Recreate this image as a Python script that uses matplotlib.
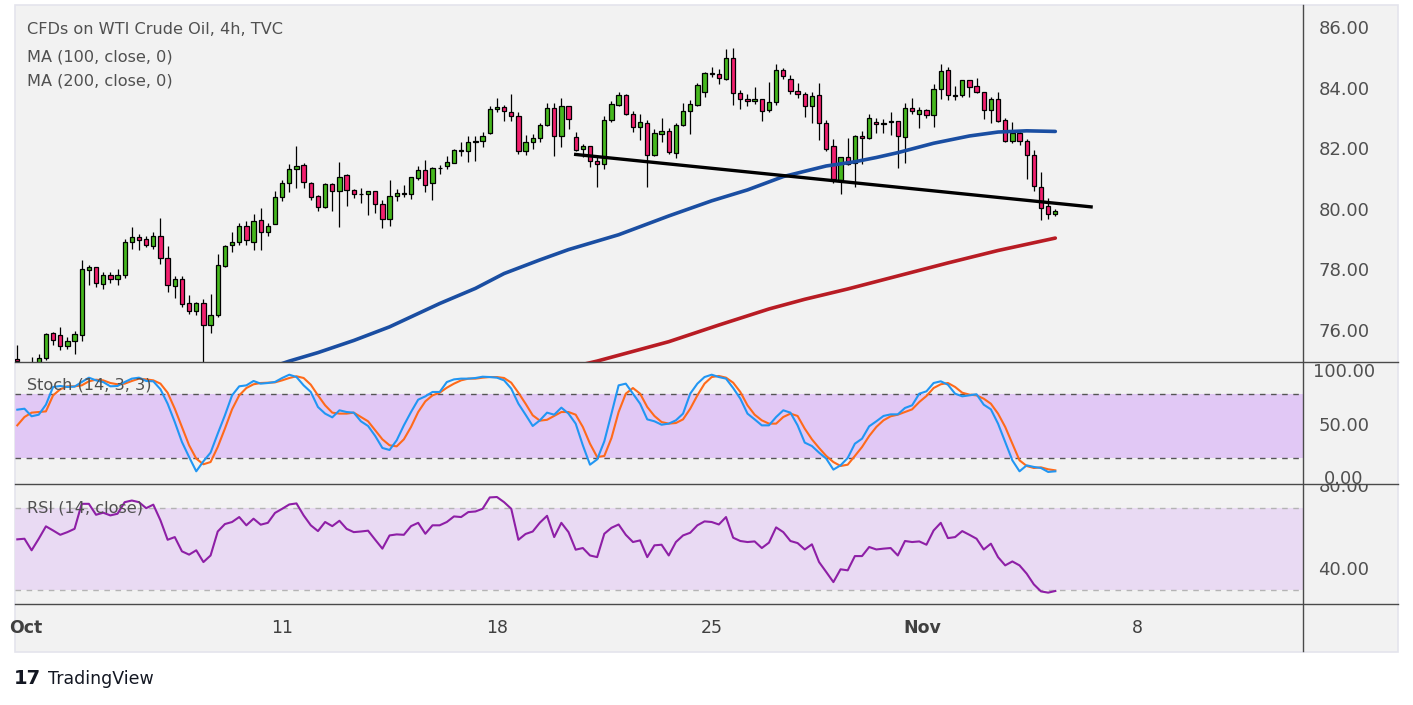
import matplotlib
matplotlib.use("Agg")
import matplotlib.pyplot as plt
from matplotlib.patches import Rectangle
from matplotlib.lines import Line2D
from matplotlib.transforms import Bbox, TransformedBbox

W, H = 1413, 705

# ---- 4h candles (bar index 0 = last bar of Sep 30) ----
opens = [
    75.10, 74.80, 74.80, 74.95, 75.13, 75.96, 75.89, 75.53, 75.69, 75.89,
    78.04, 78.14, 77.57, 77.87, 77.74, 77.87, 78.96, 79.13, 79.06, 78.83,
    79.16, 78.43, 77.51, 77.74, 76.95, 76.68, 76.95, 76.22, 76.55, 78.17,
    78.86, 78.96, 79.49, 78.98, 79.69, 79.29, 79.56, 80.45, 80.91, 81.37,
    81.50, 80.91, 80.48, 80.12, 80.87, 80.64, 81.17, 80.68, 80.57, 80.57,
    80.64, 80.21, 79.72, 80.48, 80.57, 80.55, 81.07, 81.34, 80.91, 81.40,
    81.47, 81.57, 81.99, 81.96, 82.28, 82.29, 82.56, 83.35, 83.42, 83.25,
    83.12, 81.96, 82.26, 82.39, 82.82, 83.38, 82.46, 83.45, 82.43, 82.03,
    82.13, 81.63, 81.53, 82.99, 83.48, 83.81, 83.18, 82.76, 82.89, 81.83,
    82.52, 82.62, 81.90, 82.82, 83.28, 83.48, 83.91, 84.53, 84.50, 84.34,
    85.03, 83.88, 83.68, 83.61, 83.68, 83.32, 83.58, 84.64, 84.34, 83.94,
    83.84, 83.45, 83.81, 82.89, 82.13, 81.01, 81.77, 81.57, 82.46, 82.39,
    82.92, 82.88, 82.94, 82.95, 82.43, 83.38, 83.18, 83.32, 83.15, 84.01,
    84.64, 83.80, 83.81, 84.31, 84.11, 83.91, 83.32, 83.68, 82.99, 82.29,
    82.56, 82.29, 81.83, 80.78, 80.15, 79.88,
]
highs = [
    75.57, 74.95, 75.17, 75.27, 75.96, 76.00, 76.15, 75.83, 76.02, 78.38,
    78.20, 78.16, 77.97, 77.97, 78.07, 79.06, 79.46, 79.23, 79.16, 79.29,
    79.75, 78.83, 77.84, 77.84, 77.21, 76.98, 77.08, 77.24, 78.56, 78.86,
    79.29, 79.59, 79.65, 79.88, 80.08, 79.59, 80.64, 81.01, 81.53, 82.13,
    81.57, 80.94, 80.51, 80.91, 80.91, 81.60, 81.20, 80.71, 80.74, 80.66,
    80.66, 80.35, 81.01, 80.71, 80.84, 81.12, 81.47, 81.67, 81.43, 81.50,
    81.80, 82.03, 82.26, 82.46, 82.46, 82.59, 83.45, 83.71, 83.48, 83.84,
    83.25, 82.49, 82.52, 82.89, 83.55, 83.55, 83.71, 83.47, 82.59, 82.19,
    82.15, 81.83, 83.12, 83.61, 83.91, 83.84, 83.28, 83.18, 82.99, 82.69,
    83.05, 82.72, 82.89, 83.55, 83.65, 84.21, 84.57, 84.74, 84.67, 85.33,
    85.36, 83.98, 83.84, 84.08, 83.70, 84.24, 84.83, 84.70, 84.47, 84.21,
    83.91, 83.91, 84.21, 82.99, 82.36, 81.79, 82.39, 82.49, 82.62, 83.18,
    83.05, 83.02, 83.25, 82.97, 83.55, 83.71, 83.42, 83.35, 84.17, 84.83,
    84.74, 84.11, 84.33, 84.33, 84.37, 83.93, 83.75, 83.91, 83.05, 82.92,
    82.62, 82.36, 82.00, 81.27, 80.41, 80.05,
]
lows = [
    74.90, 74.50, 74.60, 74.80, 75.06, 75.58, 75.42, 75.45, 75.28, 75.71,
    77.56, 77.48, 77.43, 77.63, 77.54, 77.77, 78.75, 78.70, 78.80, 78.73,
    78.23, 77.33, 77.11, 76.82, 76.58, 76.55, 74.95, 75.96, 76.49, 78.14,
    78.63, 78.86, 78.88, 78.70, 78.70, 79.18, 79.56, 80.31, 80.61, 80.74,
    80.74, 80.35, 79.98, 80.08, 79.98, 79.45, 80.15, 80.41, 80.25, 79.85,
    79.92, 79.42, 79.49, 80.31, 80.45, 80.38, 81.01, 80.61, 80.35, 81.20,
    81.37, 81.57, 81.80, 81.60, 81.63, 82.10, 82.52, 83.25, 82.95, 82.95,
    81.86, 81.83, 82.03, 82.26, 82.80, 81.80, 82.10, 82.69, 81.98, 81.77,
    81.44, 80.78, 81.37, 82.92, 83.46, 83.16, 82.59, 82.33, 80.78, 81.81,
    82.26, 81.86, 81.73, 82.80, 82.52, 83.46, 83.75, 84.41, 84.17, 84.32,
    83.48, 83.35, 83.45, 83.51, 82.95, 83.25, 83.48, 84.34, 83.84, 83.71,
    83.09, 82.89, 82.33, 81.96, 80.91, 80.55, 81.51, 80.78, 81.53, 82.37,
    82.56, 82.56, 82.49, 81.40, 81.57, 83.18, 82.72, 83.05, 82.76, 83.68,
    83.65, 83.65, 83.75, 83.75, 83.89, 83.02, 82.89, 82.92, 82.27, 82.23,
    82.16, 81.04, 80.64, 79.69, 79.72, 79.82,
]
closes = [
    75.03, 74.70, 74.90, 75.14, 75.92, 75.73, 75.53, 75.69, 75.92, 78.07,
    78.14, 77.61, 77.87, 77.74, 77.87, 78.96, 79.13, 79.03, 78.86, 79.16,
    78.43, 77.54, 77.74, 76.91, 76.68, 76.95, 76.22, 76.55, 78.20, 78.83,
    78.96, 79.49, 79.03, 79.65, 79.29, 79.49, 80.45, 80.91, 81.37, 81.47,
    80.94, 80.45, 80.12, 80.87, 80.64, 81.10, 80.68, 80.55, 80.55, 80.64,
    80.21, 79.72, 80.48, 80.58, 80.59, 81.10, 81.34, 80.84, 81.40, 81.41,
    81.60, 82.00, 82.01, 82.26, 82.30, 82.46, 83.35, 83.42, 83.28, 83.12,
    81.96, 82.26, 82.39, 82.82, 83.38, 82.46, 83.45, 83.02, 82.00, 82.13,
    81.63, 81.53, 82.99, 83.51, 83.81, 83.18, 82.76, 82.92, 81.83, 82.56,
    82.62, 81.93, 82.82, 83.28, 83.51, 84.14, 84.54, 84.55, 84.37, 85.03,
    83.88, 83.68, 83.61, 83.68, 83.28, 83.58, 84.64, 84.44, 83.94, 83.84,
    83.45, 83.78, 82.89, 82.03, 81.04, 81.77, 81.53, 82.46, 82.39, 83.05,
    82.85, 82.90, 82.96, 82.46, 83.38, 83.28, 83.32, 83.15, 84.01, 84.60,
    83.81, 83.82, 84.31, 84.08, 83.91, 83.32, 83.68, 82.95, 82.29, 82.56,
    82.29, 81.83, 80.81, 80.08, 79.88, 79.98,
]

# moving averages at a handful of bars
ma100_bars = [36, 38, 42, 47, 52, 59, 64, 68, 73, 77, 84, 91, 97, 102, 107, 113, 117,
              120, 123, 128, 133, 137, 141, 145]
ma100_vals = [74.88, 75.04, 75.32, 75.72, 76.17, 76.94, 77.44, 77.93, 78.38, 78.72,
              79.21, 79.83, 80.33, 80.69, 81.13, 81.48, 81.62, 81.76, 81.92, 82.23,
              82.47, 82.60, 82.64, 82.62]
ma200_bars = [79, 81, 86, 91, 98, 105, 110, 116, 123, 130, 137, 145]
ma200_vals = [74.93, 75.04, 75.36, 75.68, 76.23, 76.76, 77.08, 77.42, 77.85, 78.28,
              78.69, 79.10]

# hand-drawn trend line
trend_bars = [78, 150]
trend_vals = [81.86, 80.13]

# ---- Stochastic (14, 3, 3) ----
stoch_k = [
    65.0, 65.9, 58.8, 60.3, 69.7, 86.3, 87.2, 86.3, 86.6, 90.9,
    95.0, 92.5, 90.9, 86.9, 87.2, 90.9, 94.1, 95.0, 91.9, 91.6,
    84.1, 70.6, 53.4, 34.7, 20.6, 7.2, 16.6, 24.7, 42.5, 59.7,
    78.4, 86.9, 87.8, 91.9, 89.4, 90.0, 91.0, 94.7, 97.8, 95.6,
    87.8, 81.6, 67.5, 61.3, 57.8, 64.4, 62.8, 62.2, 54.1, 49.7,
    40.3, 29.1, 27.2, 36.3, 50.3, 62.8, 74.4, 77.5, 81.6, 81.6,
    90.9, 93.4, 94.1, 94.1, 94.7, 95.9, 95.6, 95.0, 92.5, 84.7,
    70.6, 60.3, 49.7, 55.0, 62.2, 60.3, 66.9, 61.3, 51.9, 31.6,
    13.4, 18.4, 35.3, 61.3, 87.8, 89.4, 80.0, 70.6, 55.9, 54.1,
    50.9, 51.9, 55.0, 61.3, 80.0, 89.4, 95.6, 97.8, 95.6, 94.1,
    85.3, 75.3, 61.3, 55.9, 50.3, 50.3, 58.1, 64.4, 62.2, 50.3,
    34.1, 30.9, 24.7, 19.1, 8.8, 12.8, 19.7, 33.1, 37.8, 49.4,
    54.1, 59.1, 60.6, 60.6, 66.6, 69.1, 80.0, 82.2, 90.0, 91.6,
    88.4, 80.0, 77.5, 78.4, 79.4, 69.7, 65.3, 51.9, 34.7, 17.5,
    7.2, 12.8, 11.3, 10.3, 6.6, 7.2,
]
stoch_d = [
    50.3, 58.1, 62.2, 62.8, 63.4, 78.4, 84.1, 86.9, 86.9, 87.8,
    91.6, 93.1, 92.5, 90.0, 88.8, 89.4, 91.9, 94.1, 93.4, 92.5,
    89.4, 80.9, 65.9, 48.8, 31.6, 19.1, 13.8, 15.9, 30.0, 47.2,
    65.3, 78.4, 85.3, 88.8, 90.0, 90.3, 90.6, 92.5, 94.7, 96.3,
    94.7, 88.4, 78.4, 69.1, 62.2, 61.3, 61.3, 62.2, 58.1, 54.1,
    45.6, 37.2, 31.6, 30.6, 37.2, 48.8, 62.8, 72.8, 78.4, 80.9,
    85.6, 89.4, 92.5, 94.1, 94.1, 95.0, 95.6, 95.6, 94.7, 90.3,
    80.9, 70.6, 59.7, 54.7, 55.5, 59.1, 62.8, 62.8, 60.3, 48.8,
    33.1, 20.6, 21.6, 38.4, 62.8, 80.0, 85.3, 80.0, 67.5, 59.1,
    53.4, 51.9, 52.5, 55.9, 65.9, 78.4, 89.4, 95.6, 96.6, 95.0,
    90.3, 81.6, 69.1, 60.3, 55.0, 51.9, 51.9, 58.1, 61.3, 59.1,
    47.2, 37.2, 29.1, 21.6, 15.9, 12.2, 13.4, 21.6, 30.0, 40.3,
    48.8, 55.0, 58.8, 60.3, 62.8, 65.3, 72.2, 77.8, 85.3, 88.8,
    90.0, 86.3, 80.9, 79.1, 78.4, 75.3, 70.6, 61.3, 48.8, 33.1,
    17.5, 12.2, 10.3, 10.9, 9.1, 8.1,
]

# ---- RSI (14) ----
rsi = [
    54.7, 55.0, 49.4, 55.0, 61.0, 59.0, 56.9, 58.2, 59.8, 71.9,
    71.9, 66.6, 67.6, 66.3, 67.1, 72.7, 73.5, 72.7, 69.8, 71.5,
    63.9, 54.5, 55.8, 48.9, 47.3, 49.4, 43.7, 46.9, 58.5, 62.1,
    63.1, 65.5, 61.5, 64.7, 61.8, 62.7, 67.5, 69.5, 71.6, 72.1,
    66.3, 61.5, 58.7, 63.1, 61.1, 63.7, 59.8, 58.2, 58.5, 58.9,
    54.5, 50.2, 56.6, 57.1, 56.9, 61.1, 62.7, 57.4, 61.5, 61.5,
    63.1, 65.8, 65.5, 67.9, 68.2, 69.5, 75.0, 75.2, 72.7, 69.5,
    54.5, 57.3, 58.5, 62.8, 66.1, 55.8, 62.7, 58.2, 49.7, 50.5,
    46.9, 46.1, 57.4, 60.3, 61.9, 56.9, 53.4, 54.2, 46.1, 51.8,
    52.1, 46.9, 53.4, 56.6, 57.9, 61.5, 63.4, 63.1, 61.9, 65.5,
    55.5, 53.9, 53.4, 53.7, 50.5, 53.1, 60.5, 58.2, 53.9, 52.9,
    49.8, 52.3, 43.7, 38.9, 34.0, 40.2, 39.7, 46.6, 46.6, 51.0,
    49.8, 50.2, 50.5, 46.9, 53.9, 53.4, 53.7, 52.1, 59.0, 62.7,
    55.3, 55.8, 58.7, 56.9, 55.0, 49.8, 52.6, 46.1, 42.1, 44.0,
    42.1, 38.1, 32.9, 29.5, 28.9, 29.7,
]

# time axis
date_ticks = [1.2, 37, 67, 97, 126.4, 156.5]
date_labels = ["Oct", "11", "18", "25", "Nov", "8"]
price_ticks = [76, 78, 80, 82, 84, 86]
stoch_ticks = [0, 50, 100]
rsi_ticks = [40, 80]

BG = "#f2f2f2"
TXT = "#505050"
UP = "#46b81e"
DOWN = "#f2206e"


def rect(x0, y0, x1, y1):
    return [x0 / W, 1 - y1 / H, (x1 - x0) / W, (y1 - y0) / H]


def fx(x):
    return x / W


def fy(y):
    return 1 - y / H


fig = plt.figure(figsize=(W / 100, H / 100), dpi=100, facecolor="white")
fig.patches.append(Rectangle((fx(14.5), fy(651.5)), (1398 - 14.5) / W, (651.5 - 5) / H,
                             transform=fig.transFigure, facecolor=BG,
                             edgecolor="#e4e4ec", linewidth=1.2, zorder=-5))

ax = fig.add_axes(rect(15, 6, 1303, 362))
ax_st = fig.add_axes(rect(15, 362, 1303, 484))
ax_rsi = fig.add_axes(rect(15, 484, 1303, 604))

xlim = (-0.32, 179.6)
for a in (ax, ax_st, ax_rsi):
    a.set_facecolor("none")
    a.set_xlim(*xlim)
    a.set_xticks([])
    a.set_yticks([])
    for s in a.spines.values():
        s.set_visible(False)

ax.set_ylim(75.01, 86.76)
ax_st.set_ylim(-4.7, 109.7)
ax_rsi.set_ylim(23.4, 81.5)

# candles
idx = list(range(len(closes)))
cols = [UP if c >= o else DOWN for o, c in zip(opens, closes)]
ax.vlines(idx, lows, highs, color="black", linewidth=0.9, zorder=2)
ax.bar(idx, [c - o for o, c in zip(opens, closes)], bottom=opens, width=0.6,
       color=cols, edgecolor="black", linewidth=0.9, zorder=3)

ax.plot(ma100_bars, ma100_vals, color="#1a4ea2", linewidth=2.6, zorder=4,
        solid_capstyle="round", solid_joinstyle="round")
ax.plot(ma200_bars, ma200_vals, color="#b81c24", linewidth=2.6, zorder=4,
        solid_capstyle="round", solid_joinstyle="round")
ax.plot(trend_bars, trend_vals, color="black", linewidth=2.4, zorder=5)

# stochastic
ax_st.axhspan(20, 80, color="#e1c8f5", zorder=0, linewidth=0)
for lvl in (20, 80):
    ax_st.axhline(lvl, color="#555555", linewidth=1.0, linestyle=(0, (4, 4)), zorder=1)
ax_st.plot(idx, stoch_d, color="#ff6a1a", linewidth=1.5, zorder=3)
ax_st.plot(idx, stoch_k, color="#2196f3", linewidth=1.5, zorder=3)

# rsi
ax_rsi.axhspan(30, 70, color="#e9daf3", zorder=0, linewidth=0)
for lvl in (30, 70):
    ax_rsi.axhline(lvl, color="#b4b4b4", linewidth=1.0, linestyle=(0, (4, 4)), zorder=1)
ax_rsi.plot(idx, rsi, color="#8e1fa6", linewidth=1.5, zorder=3)


# right-hand price scales, each clipped to its own band
def scale_labels(a, ticks, band):
    clip = TransformedBbox(Bbox([[fx(1303), fy(band[1])], [fx(1398), fy(band[0])]]),
                           fig.transFigure)
    for v in ticks:
        t = a.text(1.0318, v, f"{v:.2f}", transform=a.get_yaxis_transform(),
                   ha="center", va="center", fontsize=13, color=TXT)
        t.set_clip_box(clip)
        t.set_clip_on(True)


scale_labels(ax, price_ticks, (6, 362))
scale_labels(ax_st, stoch_ticks, (362, 484))
scale_labels(ax_rsi, rsi_ticks, (484, 604))

# time axis labels
for pos, lab in zip(date_ticks, date_labels):
    xf = fx(15) + (pos - xlim[0]) / (xlim[1] - xlim[0]) * (1288 / W)
    fig.text(xf, fy(628), lab, ha="center", va="center", fontsize=12.5, color="#404040",
             fontweight="bold" if lab in ("Oct", "Nov") else "normal")

# separators
for yy in (362, 484, 604):
    fig.lines.append(Line2D([fx(15), fx(1398)], [fy(yy), fy(yy)], transform=fig.transFigure,
                            color="#4a4a4a", linewidth=1.0, zorder=6))
fig.lines.append(Line2D([fx(1302.5), fx(1302.5)], [fy(5), fy(651)], transform=fig.transFigure,
                        color="#4a4a4a", linewidth=1.0, zorder=6))

# legends / titles
fig.text(fx(27), fy(30), "CFDs on WTI Crude Oil, 4h, TVC", ha="left", va="center",
         fontsize=11.6, color=TXT)
fig.text(fx(27), fy(57), "MA (100, close, 0)", ha="left", va="center", fontsize=11.6, color=TXT)
fig.text(fx(27), fy(81), "MA (200, close, 0)", ha="left", va="center", fontsize=11.6, color=TXT)
fig.text(fx(27), fy(385), "Stoch (14, 3, 3)", ha="left", va="center", fontsize=11.6, color=TXT)
fig.text(fx(27), fy(508), "RSI (14, close)", ha="left", va="center", fontsize=11.6, color=TXT)

# TradingView logo
fig.text(fx(14), fy(679), "17", ha="left", va="center", fontsize=14, fontweight="heavy",
         color="#131722")
fig.text(fx(48), fy(679), "TradingView", ha="left", va="center", fontsize=12.5,
         color="#131722")

fig.savefig("out.png", dpi=100, facecolor="white")
